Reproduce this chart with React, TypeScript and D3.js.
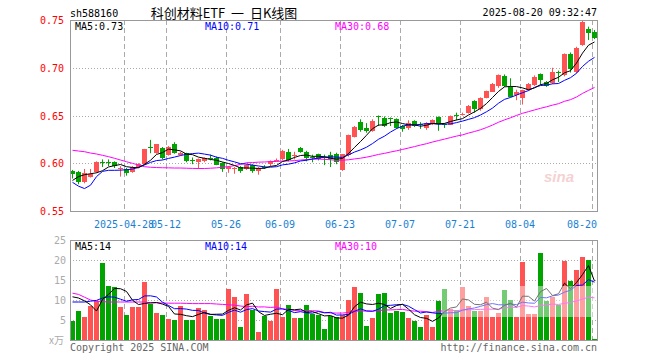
import React, { useRef, useEffect } from 'react'
import * as d3 from 'd3'

const dates = [
  '2025-04-15', '2025-04-16', '2025-04-17', '2025-04-18', '2025-04-21', '2025-04-22', '2025-04-23', '2025-04-24', '2025-04-25',
  '2025-04-28', '2025-04-29', '2025-04-30', '2025-05-06', '2025-05-07', '2025-05-08', '2025-05-09',
  '2025-05-12', '2025-05-13', '2025-05-14', '2025-05-15', '2025-05-16', '2025-05-19', '2025-05-20', '2025-05-21', '2025-05-22', '2025-05-23',
  '2025-05-26', '2025-05-27', '2025-05-28', '2025-05-29', '2025-05-30', '2025-06-03', '2025-06-04', '2025-06-05', '2025-06-06',
  '2025-06-09', '2025-06-10', '2025-06-11', '2025-06-12', '2025-06-13', '2025-06-16', '2025-06-17', '2025-06-18', '2025-06-19', '2025-06-20',
  '2025-06-23', '2025-06-24', '2025-06-25', '2025-06-26', '2025-06-27', '2025-06-30', '2025-07-01', '2025-07-02', '2025-07-03', '2025-07-04',
  '2025-07-07', '2025-07-08', '2025-07-09', '2025-07-10', '2025-07-11', '2025-07-14', '2025-07-15', '2025-07-16', '2025-07-17', '2025-07-18',
  '2025-07-21', '2025-07-22', '2025-07-23', '2025-07-24', '2025-07-25', '2025-07-28', '2025-07-29', '2025-07-30', '2025-07-31', '2025-08-01',
  '2025-08-04', '2025-08-05', '2025-08-06', '2025-08-07', '2025-08-08', '2025-08-11', '2025-08-12', '2025-08-13', '2025-08-14', '2025-08-15',
  '2025-08-18', '2025-08-19', '2025-08-20',
]

const open = [
  0.592, 0.591, 0.581, 0.586, 0.591, 0.601, 0.6015, 0.601, 0.594, 0.594,
  0.591, 0.596, 0.599, 0.6175, 0.611, 0.616, 0.609, 0.62, 0.609, 0.611,
  0.6036, 0.601, 0.602, 0.6055, 0.606, 0.6, 0.594, 0.594, 0.596, 0.594,
  0.5985, 0.592, 0.596, 0.5985, 0.6025, 0.6045, 0.612, 0.6075, 0.616, 0.612,
  0.607, 0.6095, 0.6065, 0.6085, 0.6095, 0.593, 0.609, 0.628, 0.643, 0.637,
  0.634, 0.6495, 0.6475, 0.6475, 0.646, 0.639, 0.637, 0.644, 0.641, 0.6365,
  0.641, 0.648, 0.6412, 0.641, 0.6505, 0.6505, 0.653, 0.665, 0.656, 0.6685,
  0.6755, 0.68, 0.6915, 0.68, 0.6715, 0.668, 0.6765, 0.682, 0.693, 0.6855,
  0.685, 0.696, 0.6925, 0.714, 0.696, 0.724, 0.741, 0.737,
]
const high = [
  0.593, 0.592, 0.594, 0.594, 0.602, 0.604, 0.604, 0.602, 0.597, 0.595,
  0.597, 0.6, 0.615, 0.6245, 0.62, 0.617, 0.618, 0.622, 0.612, 0.611,
  0.606, 0.605, 0.606, 0.609, 0.607, 0.601, 0.597, 0.596, 0.597, 0.599,
  0.599, 0.596, 0.598, 0.603, 0.605, 0.614, 0.615, 0.612, 0.617, 0.613,
  0.609, 0.61, 0.609, 0.612, 0.611, 0.6095, 0.63, 0.639, 0.646, 0.642,
  0.646, 0.65, 0.649, 0.648, 0.647, 0.64, 0.645, 0.645, 0.643, 0.643,
  0.646, 0.649, 0.642, 0.65, 0.653, 0.653, 0.661, 0.666, 0.669, 0.676,
  0.684, 0.693, 0.693, 0.689, 0.677, 0.677, 0.684, 0.692, 0.694, 0.686,
  0.7, 0.697, 0.715, 0.716, 0.722, 0.749, 0.743, 0.7395,
]
const low = [
  0.584, 0.578, 0.579, 0.585, 0.59, 0.596, 0.597, 0.595, 0.586, 0.587,
  0.59, 0.595, 0.598, 0.6105, 0.61, 0.604, 0.608, 0.61, 0.608, 0.601,
  0.599, 0.594, 0.601, 0.603, 0.598, 0.591, 0.59, 0.589, 0.59, 0.593,
  0.59, 0.588, 0.594, 0.597, 0.602, 0.603, 0.602, 0.604, 0.611, 0.602,
  0.601, 0.603, 0.598, 0.596, 0.599, 0.592, 0.607, 0.627, 0.633, 0.632,
  0.633, 0.639, 0.638, 0.639, 0.636, 0.633, 0.635, 0.638, 0.636, 0.635,
  0.64, 0.634, 0.637, 0.64, 0.645, 0.65, 0.652, 0.653, 0.655, 0.668,
  0.675, 0.679, 0.68, 0.669, 0.666, 0.6615, 0.676, 0.681, 0.682, 0.68,
  0.683, 0.685, 0.691, 0.695, 0.694, 0.723, 0.729, 0.73,
]
const close = [
  0.589, 0.581, 0.59, 0.589, 0.601, 0.6, 0.6005, 0.597, 0.595, 0.5895,
  0.596, 0.599, 0.615, 0.616, 0.62, 0.606, 0.617, 0.611, 0.611, 0.603,
  0.603, 0.604, 0.605, 0.605, 0.5985, 0.594, 0.596, 0.595, 0.592, 0.5985,
  0.5925, 0.595, 0.5955, 0.602, 0.6035, 0.613, 0.6035, 0.6085, 0.612, 0.606,
  0.606, 0.604, 0.606, 0.6045, 0.601, 0.6095, 0.63, 0.638, 0.635, 0.634,
  0.644, 0.649, 0.639, 0.647, 0.637, 0.636, 0.642, 0.639, 0.64, 0.642,
  0.645, 0.641, 0.6405, 0.65, 0.65, 0.652, 0.66, 0.657, 0.668, 0.6755,
  0.6835, 0.692, 0.681, 0.67, 0.675, 0.6765, 0.6825, 0.6905, 0.687, 0.681,
  0.696, 0.6955, 0.714, 0.698, 0.721, 0.748, 0.737, 0.731,
]
// volume in 万
const volume = [
  4.8, 7.3, 5.8, 8.6, 9.7, 19.3, 13.6, 13.2, 8.3, 6.3,
  8.3, 8.2, 14.6, 9.0, 6.8, 6.3, 5.3, 5.1, 8.6, 5.1,
  5.1, 8.1, 7.6, 6.1, 5.3, 5.3, 12.8, 10.8, 3.3, 11.6,
  7.6, 2.1, 6.1, 4.8, 12.8, 5.8, 8.8, 5.6, 5.6, 8.8,
  6.6, 6.3, 2.8, 6.1, 5.8, 6.3, 10.1, 13.3, 11.8, 3.6,
  5.6, 11.6, 11.8, 6.8, 7.3, 7.1, 5.6, 4.8, 3.3, 6.3,
  3.3, 9.8, 12.8, 7.8, 7.6, 13.3, 8.6, 7.3, 7.3, 10.8,
  5.8, 6.8, 12.6, 10.0, 5.8, 19.6, 6.6, 6.6, 21.8, 9.8,
  10.8, 8.8, 19.8, 14.8, 17.6, 20.8, 20.1, 0.3,
]

// moving average values before a full window exists (history lies left of the chart)
const priceMa5Head = [0.582, 0.586, 0.588, 0.589]
const priceMa10Head = [0.58, 0.576, 0.5735, 0.577, 0.586, 0.5915, 0.5926, 0.5926, 0.5928]
const priceMa30Head = [
  0.6136, 0.6128, 0.6121, 0.6107, 0.6097, 0.6083, 0.6069, 0.6052, 0.6034, 0.6016,
  0.5999, 0.5982, 0.5964, 0.5958, 0.5955, 0.5953, 0.5952, 0.595, 0.595, 0.5948,
  0.5946, 0.5945, 0.5945, 0.5948, 0.5952, 0.5958, 0.5965, 0.5975, 0.5988,
]
const volMa5Head = [10.8, 10.5, 9.8, 8.8]
const volMa10Head = [9.5, 9.5, 9.5, 9.7, 9.9, 10.5, 10.8, 10.7, 10.2]
const volMa30Head = [
  11.7, 11.4, 10.7, 10.0, 9.7, 9.6, 9.5, 9.5, 9.5, 9.5,
  9.5, 9.5, 9.5, 9.3, 9.3, 9.25, 9.2, 9.2, 9.2, 9.15,
  9.1, 9.1, 9.1, 9.1, 9.0, 8.9, 8.8, 8.7, 8.5,
]

const priceTicks = [0.75, 0.7, 0.65, 0.6, 0.55]
const volTicks = [25, 20, 15, 10, 5]
const tickDates = ['2025-04-28', '2025-05-12', '2025-05-26', '2025-06-09', '2025-06-23', '2025-07-07', '2025-07-21', '2025-08-04', '2025-08-20']
const tickLabels = ['2025-04-28', '05-12', '05-26', '06-09', '06-23', '07-07', '07-21', '08-04', '08-20']

const RED = '#ff5353'
const GREEN = '#00a300'
const MONO = "'DejaVu Sans Mono', monospace"

const movingAvg = (vals: number[], n: number, head: number[]) =>
  vals.map((v, i) => (i < n - 1 ? head[i] : (d3.mean(vals.slice(i - n + 1, i + 1)) as number)))

export default function App() {
  const ref = useRef<SVGSVGElement>(null)

  useEffect(() => {
    const svg = d3.select(ref.current)
    svg.selectAll('*').remove()

    const left = 70
    const right = 597
    const pTop = 20
    const pBot = 211
    const vTop = 240
    const vBot = 340

    const x = d3.scaleBand<string>().domain(dates).range([left - 0.5, right + 0.5]).paddingInner(1 / 6).paddingOuter(1 / 12)
    const bw = x.bandwidth()
    const cx = (i: number) => (x(dates[i]) as number) + bw / 2
    const y = d3.scaleLinear().domain([0.55, 0.75]).range([pBot, pTop])
    const yv = d3.scaleLinear().domain([0, 25]).range([vBot, vTop])

    const up = (i: number) => close[i] >= open[i]

    // grids
    const grid = svg.append('g')
    ;[[pTop, pBot], [vTop, vBot]].forEach(([t, b]) => {
      grid
        .selectAll(null)
        .data(tickDates)
        .enter()
        .append('line')
        .attr('x1', d => Math.round(x(d) as number) + 0.5)
        .attr('x2', d => Math.round(x(d) as number) + 0.5)
        .attr('y1', t)
        .attr('y2', b)
        .attr('stroke', '#aaa')
        .attr('stroke-dasharray', '5,3')
    })
    grid
      .selectAll(null)
      .data(priceTicks.slice(1, -1))
      .enter()
      .append('line')
      .attr('x1', left)
      .attr('x2', right)
      .attr('y1', d => Math.round(y(d)) + 0.5)
      .attr('y2', d => Math.round(y(d)) + 0.5)
      .attr('stroke', '#aaa')
      .attr('stroke-dasharray', '1,2')
    grid
      .selectAll(null)
      .data(volTicks.slice(1))
      .enter()
      .append('line')
      .attr('x1', left)
      .attr('x2', right)
      .attr('y1', d => Math.round(yv(d)) + 0.5)
      .attr('y2', d => Math.round(yv(d)) + 0.5)
      .attr('stroke', '#aaa')
      .attr('stroke-dasharray', '1,2')

    // watermark
    svg
      .append('text')
      .attr('x', 544)
      .attr('y', 182)
      .attr('font-family', 'Liberation Sans, sans-serif')
      .attr('font-style', 'italic')
      .attr('font-weight', 'bold')
      .attr('font-size', 15)
      .attr('fill', '#f5d2d2')
      .text('sina')

    // candles
    const idx = d3.range(dates.length)
    const candles = svg.append('g')
    candles
      .selectAll('line')
      .data(idx)
      .enter()
      .append('line')
      .attr('x1', i => cx(i))
      .attr('x2', i => cx(i))
      .attr('y1', i => y(high[i]))
      .attr('y2', i => y(low[i]))
      .attr('stroke', i => (up(i) ? RED : GREEN))
    candles
      .selectAll('rect')
      .data(idx)
      .enter()
      .append('rect')
      .attr('x', i => x(dates[i]) as number)
      .attr('width', bw)
      .attr('y', i => Math.round(y(Math.max(open[i], close[i]))))
      .attr('height', i => Math.max(1, Math.round(Math.abs(y(open[i]) - y(close[i])))))
      .attr('fill', i => (up(i) ? RED : GREEN))

    // volume bars
    svg
      .append('g')
      .selectAll('rect')
      .data(idx)
      .enter()
      .append('rect')
      .attr('x', i => x(dates[i]) as number)
      .attr('width', bw)
      .attr('y', i => Math.round(yv(volume[i])))
      .attr('height', i => vBot - Math.round(yv(volume[i])))
      .attr('fill', i => (up(i) ? RED : GREEN))

    // moving averages
    const pMa5 = movingAvg(close, 5, priceMa5Head)
    const pMa10 = movingAvg(close, 10, priceMa10Head)
    const pMa30 = movingAvg(close, 30, priceMa30Head)
    const vMa5 = movingAvg(volume, 5, volMa5Head)
    const vMa10 = movingAvg(volume, 10, volMa10Head)
    const vMa30 = movingAvg(volume, 30, volMa30Head)

    const priceLine = d3.line<number>().x((_, i) => cx(i)).y(v => y(v))
    const volLine = d3.line<number>().x((_, i) => cx(i)).y(v => yv(v))
    const maColors = ['#000', '#0000ff', '#ff00ff']
    ;[pMa30, pMa10, pMa5].forEach((s, k) => {
      svg.append('path').attr('d', priceLine(s)).attr('fill', 'none').attr('stroke', maColors[2 - k]).attr('stroke-width', 1)
    })
    ;[vMa30, vMa10, vMa5].forEach((s, k) => {
      svg.append('path').attr('d', volLine(s)).attr('fill', 'none').attr('stroke', maColors[2 - k]).attr('stroke-width', 1)
    })

    // faded watermark band over volume panel
    svg
      .append('rect')
      .attr('x', 442)
      .attr('y', 286)
      .attr('width', right - 442)
      .attr('height', 31)
      .attr('fill', '#fff')
      .attr('opacity', 0.45)

    // panel borders
    ;[[pTop, pBot], [vTop, vBot]].forEach(([t, b]) => {
      svg
        .append('rect')
        .attr('x', left + 0.5)
        .attr('y', t + 0.5)
        .attr('width', right - left)
        .attr('height', b - t)
        .attr('fill', 'none')
        .attr('stroke', '#999')
    })

    // axes
    const pAxis = svg
      .append('g')
      .attr('transform', `translate(${left},0.5)`)
      .call(d3.axisLeft(y).tickValues(priceTicks).tickSize(0).tickPadding(6).tickFormat(d3.format('.2f')))
    pAxis.select('.domain').remove()
    pAxis.selectAll('text').attr('fill', '#ff0000').attr('font-family', MONO).attr('font-size', 10)

    const vAxis = svg
      .append('g')
      .attr('transform', `translate(${left - 3},0.5)`)
      .call(d3.axisLeft(yv).tickValues(volTicks).tickSize(0).tickPadding(1))
    vAxis.select('.domain').remove()
    vAxis.selectAll('text').attr('fill', '#aaa').attr('font-family', MONO).attr('font-size', 10)

    const xAxis = svg
      .append('g')
      .attr('transform', `translate(${-bw / 2},${pBot})`)
      .call(
        d3
          .axisBottom(x)
          .tickValues(tickDates)
          .tickSize(0)
          .tickPadding(10)
          .tickFormat((_, i) => tickLabels[i])
      )
    xAxis.select('.domain').remove()
    xAxis.selectAll('text').attr('fill', '#1a7fd4').attr('font-family', MONO).attr('font-size', 10)
    // keep the last label inside the panel
    xAxis
      .selectAll<SVGTextElement, string>('text')
      .filter(d => d === tickDates[tickDates.length - 1])
      .attr('text-anchor', 'end')
      .attr('dx', (right - (x(tickDates[tickDates.length - 1]) as number)) + 'px')

    // texts
    const txt = (tx: number, ty: number, s: string, color: string, anchor = 'start', size = 10, family = MONO) =>
      svg
        .append('text')
        .attr('x', tx)
        .attr('y', ty)
        .attr('fill', color)
        .attr('text-anchor', anchor)
        .attr('font-size', size)
        .attr('font-family', family)
        .style('white-space', 'pre')
        .text(s)

    const last = dates.length - 1
    txt(70, 17, 'sh588160', '#000')
    txt(224, 18, '科创材料ETF  一  日K线图', '#000', 'middle', 13, "'Noto Sans CJK SC', sans-serif")
    txt(597, 16, '2025-08-20 09:32:47', '#000', 'end')
    txt(75, 30, `MA5:${pMa5[last].toFixed(2)}`, '#000')
    txt(205, 30, `MA10:${pMa10[last].toFixed(2)}`, '#0000ff')
    txt(335, 30, `MA30:${pMa30[last].toFixed(2)}`, '#ff00ff')
    txt(75, 250, `MA5:${Math.floor(vMa5[last])}`, '#000')
    txt(205, 250, `MA10:${Math.floor(vMa10[last])}`, '#0000ff')
    txt(335, 250, `MA30:${Math.floor(vMa30[last])}`, '#ff00ff')
    txt(64, 344, 'x万', '#aaa', 'end', 10, "'Noto Sans CJK SC', sans-serif")
    txt(70, 351, 'Copyright 2025 SINA.COM', '#666')
    txt(597, 351, 'http://finance.sina.com.cn', '#666', 'end')
  }, [])

  return (
    <svg
      ref={ref}
      width={660}
      height={360}
      style={{ position: 'absolute', left: 0, top: 0, background: '#fff' }}
    ></svg>
  )
}
